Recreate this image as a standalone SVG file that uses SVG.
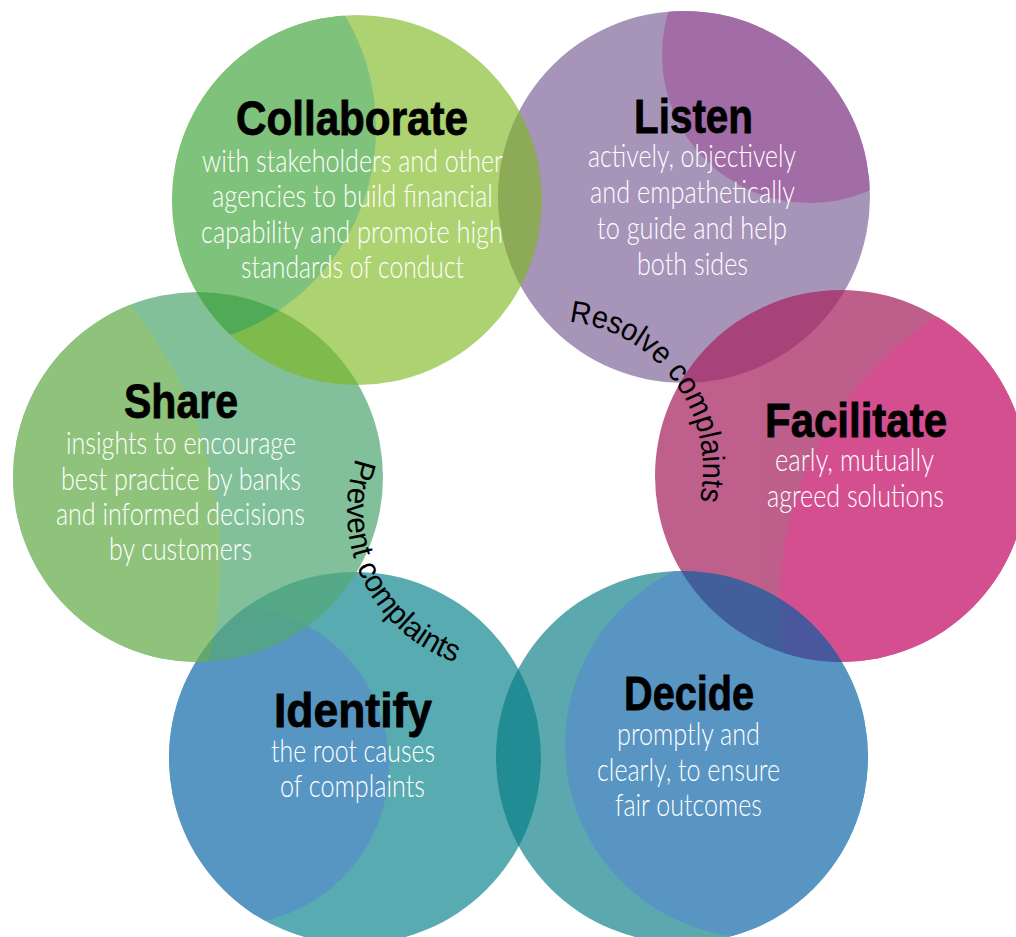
<svg xmlns="http://www.w3.org/2000/svg" width="1016" height="937" viewBox="0 0 1016 937">
<defs>
<style>
.title{font-family:"Liberation Sans",Arial,sans-serif;font-weight:bold;font-size:48px;fill:#000;stroke:#000;stroke-width:0.8px;text-anchor:middle}
.body{font-family:Lato,"Open Sans","Liberation Sans",sans-serif;font-weight:300;font-size:31px;fill:#fff;text-anchor:middle}
.arc{font-family:"Liberation Sans",Arial,sans-serif;font-size:31px;fill:#000}
</style>
<clipPath id="clip-listen"><circle cx="684" cy="197" r="186"/></clipPath>
<clipPath id="clip-identify"><circle cx="355" cy="758" r="186"/></clipPath>
<clipPath id="clip-share"><circle cx="198" cy="477" r="185"/></clipPath>
<clipPath id="clip-collaborate"><circle cx="357" cy="200" r="185"/></clipPath>
<clipPath id="clip-facilitate"><circle cx="841" cy="476" r="186"/></clipPath>
<clipPath id="clip-decide"><circle cx="682" cy="757" r="186"/></clipPath>
<path id="path-resolve" d="M 569.1 321.8 A 149 149 0 0 1 699.5 502.2" fill="none"/>
<path id="path-prevent" d="M 355.9 458.4 A 160 160 0 0 0 456.5 662.8" fill="none"/>
</defs>
<rect width="1016" height="937" fill="#fff"/>

<g id="node-listen">
<g opacity="1">
<circle cx="684" cy="197" r="186" fill="#A794B9"/>
<circle cx="810" cy="55" r="148" fill="#A26CA6" clip-path="url(#clip-listen)"/>
</g>
<text class="title" x="693.5" y="133" textLength="119" lengthAdjust="spacingAndGlyphs">Listen</text>
<text class="body" x="692" y="167" textLength="208" lengthAdjust="spacingAndGlyphs">actively, objectively</text>
<text class="body" x="692.5" y="203" textLength="205" lengthAdjust="spacingAndGlyphs">and empathetically</text>
<text class="body" x="692" y="238.5" textLength="190" lengthAdjust="spacingAndGlyphs">to guide and help</text>
<text class="body" x="692.5" y="275" textLength="111" lengthAdjust="spacingAndGlyphs">both sides</text>
</g>

<g id="node-identify">
<g opacity="1">
<circle cx="355" cy="758" r="186" fill="#58ABB0"/>
<circle cx="229" cy="765" r="160" fill="#5796C3" clip-path="url(#clip-identify)"/>
</g>
<text class="title" x="353" y="727" textLength="158" lengthAdjust="spacingAndGlyphs">Identify</text>
<text class="body" x="353" y="762" textLength="164" lengthAdjust="spacingAndGlyphs">the root causes</text>
<text class="body" x="352.5" y="797" textLength="145" lengthAdjust="spacingAndGlyphs">of complaints</text>
</g>

<g id="node-share">
<g opacity="0.73">
<circle cx="198" cy="477" r="185" fill="#54A976"/>
<circle cx="-184" cy="560" r="405" fill="#67AE4D" clip-path="url(#clip-share)"/>
</g>
<text class="title" x="181" y="418" textLength="114" lengthAdjust="spacingAndGlyphs">Share</text>
<text class="body" x="181" y="453.5" textLength="230" lengthAdjust="spacingAndGlyphs">insights to encourage</text>
<text class="body" x="181" y="489.5" textLength="240" lengthAdjust="spacingAndGlyphs">best practice by banks</text>
<text class="body" x="180.5" y="525" textLength="249" lengthAdjust="spacingAndGlyphs">and informed decisions</text>
<text class="body" x="180.5" y="560" textLength="143" lengthAdjust="spacingAndGlyphs">by customers</text>
</g>

<g id="node-collaborate">
<g opacity="0.63">
<circle cx="357" cy="200" r="185" fill="#7EB81F"/>
<circle cx="156" cy="128" r="220" fill="#35A02F" clip-path="url(#clip-collaborate)"/>
</g>
<text class="title" x="352" y="135" textLength="232" lengthAdjust="spacingAndGlyphs">Collaborate</text>
<text class="body" x="352.5" y="172" textLength="301" lengthAdjust="spacingAndGlyphs">with stakeholders and other</text>
<text class="body" x="352.5" y="207" textLength="281" lengthAdjust="spacingAndGlyphs">agencies to build financial</text>
<text class="body" x="352" y="242.5" textLength="302" lengthAdjust="spacingAndGlyphs">capability and promote high</text>
<text class="body" x="352.5" y="278" textLength="223" lengthAdjust="spacingAndGlyphs">standards of conduct</text>
</g>

<g id="node-facilitate">
<g opacity="0.74">
<circle cx="841" cy="476" r="186" fill="#A72764"/>
<circle cx="1113" cy="600" r="333" fill="#C5126A" clip-path="url(#clip-facilitate)"/>
</g>
<text class="title" x="856" y="437" textLength="182" lengthAdjust="spacingAndGlyphs">Facilitate</text>
<text class="body" x="854.5" y="471" textLength="159" lengthAdjust="spacingAndGlyphs">early, mutually</text>
<text class="body" x="855.5" y="507" textLength="177" lengthAdjust="spacingAndGlyphs">agreed solutions</text>
</g>

<g id="node-decide">
<g opacity="0.65">
<circle cx="682" cy="757" r="186" fill="#047C84"/>
<circle cx="758" cy="745" r="193" fill="#005EA3" clip-path="url(#clip-decide)"/>
</g>
<text class="title" x="689" y="710" textLength="130" lengthAdjust="spacingAndGlyphs">Decide</text>
<text class="body" x="688.5" y="745" textLength="143" lengthAdjust="spacingAndGlyphs">promptly and</text>
<text class="body" x="688.5" y="781" textLength="183" lengthAdjust="spacingAndGlyphs">clearly, to ensure</text>
<text class="body" x="688.5" y="816" textLength="147" lengthAdjust="spacingAndGlyphs">fair outcomes</text>
</g>

<g id="connectors">
<text class="arc"><textPath href="#path-resolve" textLength="250" lengthAdjust="spacingAndGlyphs">Resolve complaints</textPath></text>
<text class="arc"><textPath href="#path-prevent" textLength="252" lengthAdjust="spacingAndGlyphs">Prevent complaints</textPath></text>
</g>
</svg>
